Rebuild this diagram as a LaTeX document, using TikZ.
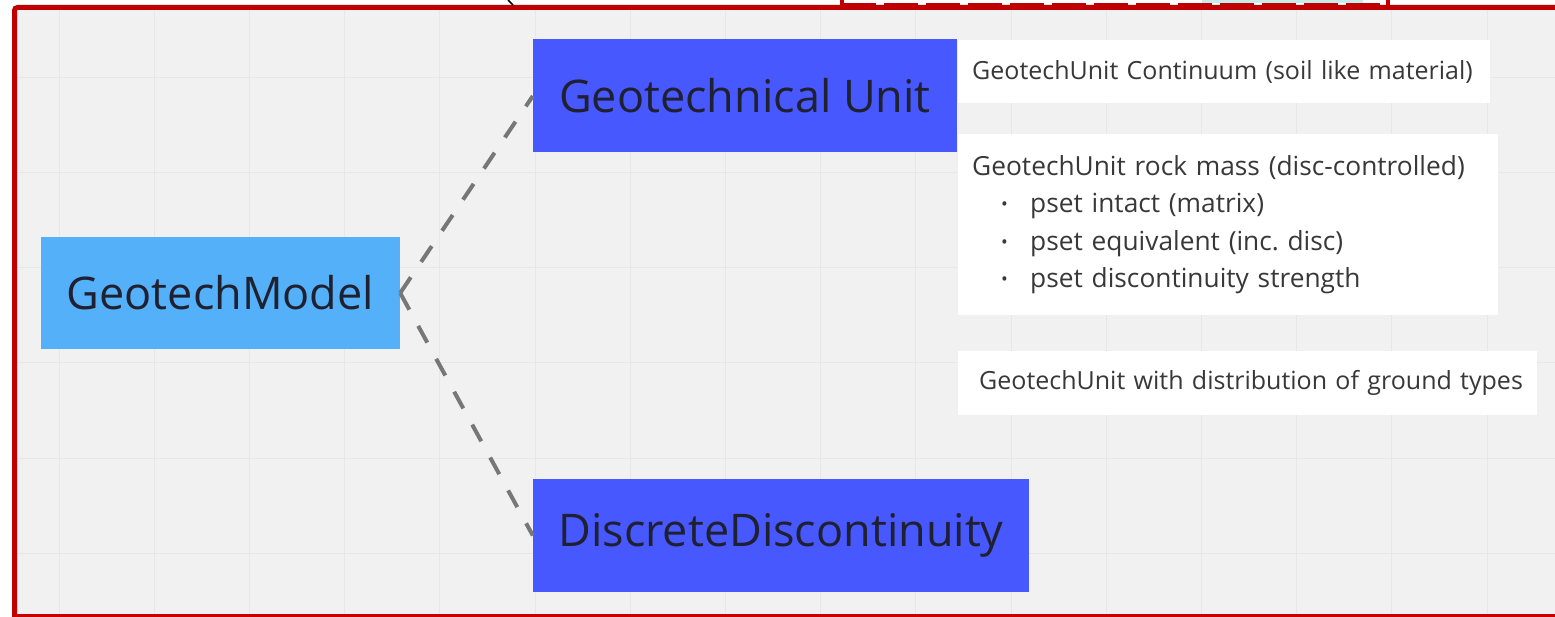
\documentclass[tikz,border=0pt]{standalone}
\usepackage{fontspec}
\setmainfont{Open Sans}
\frenchspacing
\definecolor{canvas}{HTML}{F1F1F1}
\definecolor{gridline}{HTML}{E7E7E7}
\definecolor{framered}{HTML}{C00000}
\definecolor{modelblue}{HTML}{54B0F9}
\definecolor{unitblue}{HTML}{4858FF}
\definecolor{boxtext}{HTML}{1F2030}
\definecolor{notetext}{HTML}{383838}
\definecolor{connector}{HTML}{777777}
\definecolor{tealpatch}{HTML}{C8ECEA}
\tikzset{
  bigbox/.style={inner sep=0pt, text=boxtext, font=\fontsize{45}{50}\selectfont},
  modelbox/.style={bigbox, fill=modelblue, minimum width=359pt, minimum height=112pt},
  unitbox/.style={bigbox, fill=unitblue, minimum height=113pt},
  notebox/.style={fill=white, anchor=north west, inner ysep=0pt, align=left,
    text=notetext, font=\fontsize{25}{37.5}\selectfont},
  conn/.style={draw=connector, line width=4pt, dash pattern=on 19pt off 18.5pt},
}
\newcommand{\bulletitem}[1]{\hspace*{29pt}\makebox[29pt][l]{\fontsize{18}{18}\selectfont\raisebox{2pt}{•}}#1}
\begin{document}
\begin{tikzpicture}[x=1pt, y=-1pt]
  \useasboundingbox (0,0) rectangle (1555,617);
  \fill[white] (0,0) rectangle (1555,617);

  % canvas with its grid
  \fill[canvas] (17,10) rectangle (1555,614);
  \foreach \gx in {59,154.2,...,1555}
    \draw[gridline, line width=1pt] (\gx,10) -- (\gx,614);
  \foreach \gy in {78,173,...,614}
    \draw[gridline, line width=1pt] (17,\gy) -- (1555,\gy);

  % window frame
  \draw[framered, line width=5pt, rounded corners=3pt] (1556,7.5) -- (14.5,7.5) -- (14.5,620);
  \fill[framered!90!red] (17,614) rectangle (1555,617);

  % items above the frame
  \draw[black, line width=1.5pt] (508,0) -- (513,5);
  \fill[tealpatch] (1202,0) rectangle (1363,3);
  \draw[framered, line width=2.5pt, dash pattern=on 34pt off 8pt] (842,3.8) -- (1388,3.8);
  \draw[framered, line width=3.5pt] (842,0) -- (842,5) (1388,0) -- (1388,5);

  % main entities
  \node[modelbox] (gm) at (220.5,293) {GeotechModel};
  \node[unitbox, minimum width=424pt] (gu) at (745,96) {Geotechnical Unit};
  \node[unitbox, minimum width=496pt] (dd) at (781,535.5) {DiscreteDiscontinuity};

  % notes
  \node[notebox, inner xsep=14pt, text width=504pt, minimum height=63pt] (n1) at (958,40)
    {GeotechUnit Continuum (soil like material)};
  \node[notebox, inner xsep=14pt, text width=512pt, minimum height=181pt,
        font=\fontsize{26.3}{37.5}\selectfont] (n2) at (958,134)
    {GeotechUnit rock mass (disc-controlled)\\
     \bulletitem{pset intact (matrix)}\\
     \bulletitem{pset equivalent (inc. disc)}\\
     \bulletitem{pset discontinuity strength}};
  \node[notebox, inner xsep=9.5pt, text width=560pt, minimum height=64pt] (n3) at (958,351)
    {\hspace*{11.5pt}GeotechUnit with distribution of ground types};

  % links
  \draw[conn] (gm.east) -- (gu.west);
  \draw[conn] (gm.east) -- (dd.west);
\end{tikzpicture}
\end{document}
